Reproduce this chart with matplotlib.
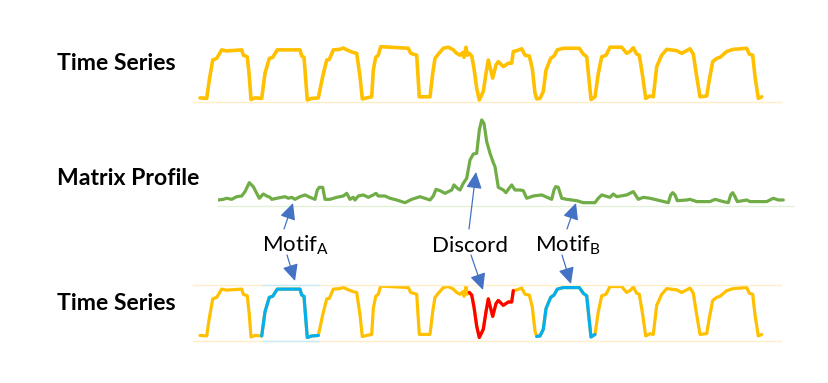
import matplotlib
matplotlib.use("Agg")
import matplotlib.pyplot as plt
from matplotlib.patches import FancyArrowPatch
import numpy as np

plt.rcParams['font.family'] = ['Lato', 'DejaVu Sans']
plt.rcParams['mathtext.fontset'] = 'custom'
plt.rcParams['mathtext.rm'] = 'Lato'
plt.rcParams['mathtext.it'] = 'Lato:italic'
plt.rcParams['mathtext.bf'] = 'Lato:bold'

# ---------------- data ----------------
ts_t = [0, 6.7, 9.3, 12.7, 16.7, 21.7, 26.7, 41.7, 43.3, 47.3, 49.3, 51, 55, 61.7,
        65, 69.3, 72.7, 77.3, 81.7, 100, 101.7, 104, 105.7, 107.3, 111.7, 118.3,
        122.7, 126.7, 129.3, 133.3, 140, 143.3, 146.7, 153.3, 156.7, 160, 162.3,
        166.7, 171.7, 173.3, 175.7, 178.3, 180.7, 190, 208.3, 210.7, 216.7, 218,
        219.3, 230, 232.7, 235, 238.3, 243.3, 248.3, 253.3, 256.7, 260, 262.7, 264,
        266, 267.3, 269.3, 271.7, 274, 276.7, 279.3, 283.3, 286, 288.3, 292.7, 296,
        298.3, 303.3, 308.3, 311.7, 313.3, 316.7, 321.7, 325, 329.3, 332.3, 335,
        336.7, 340, 343.3, 346, 350.7, 354, 357.3, 363.3, 379.3, 383.3, 386.7, 389,
        391, 395, 398.3, 401.7, 406, 410, 421.7, 426.7, 430, 433.3, 436.7, 439.3,
        442.7, 445.7, 450, 453.3, 456.7, 461.7, 466.7, 476.7, 481.7, 490, 493.3,
        496.7, 500, 506.7, 509.3, 512.7, 516.7, 520, 526.7, 533.3, 546.7, 549.3,
        552.7, 555, 558.3, 561.7]
ts_v = [4, 3, 37.5, 75, 78, 94, 92, 94, 84, 81, 44, 1, 4, 3,
        50, 78, 80, 94, 94, 94, 82.5, 80, 37.5, 0, 3, 4,
        44, 75, 76, 94, 95, 97.5, 94, 89, 87.5, 44, 2,
        4, 6, 56, 80, 84, 100, 99, 97, 87.5, 84, 44,
        6, 6, 50, 78, 86, 97, 99, 94, 87.5, 84, 89, 80,
        99, 84, 87.5, 82.5, 59, 22, 0, 16, 50, 75, 41, 66,
        72, 62.5, 69, 69, 91, 92.5, 96, 84, 82.5, 59, 12.5,
        2, 3, 16, 56, 78, 82.5, 94, 97, 97, 86, 81, 37.5,
        1, 6, 50, 81, 84, 99, 99, 87.5, 91, 98, 86, 84,
        44, 3, 7.5, 6, 62.5, 84, 95, 92.5, 87.5, 96, 86,
        44, 6, 7.5, 37.5, 72, 78, 80, 91, 95, 97, 86,
        84, 44, 3, 6]

mp_t = [18.3, 23.3, 26.7, 31.7, 36.7, 41.7, 45, 49.3, 53.3, 56.7, 59.3, 63.3, 66.7,
        70, 71.7, 76.7, 81.7, 85, 88.3, 91.7, 95, 100, 105, 110, 115, 117.3, 119.3,
        122.7, 125, 130, 136.7, 143.3, 146.7, 150, 153.3, 155, 158.3, 163.3, 168.3,
        173.3, 176, 178.3, 185, 190, 196.7, 205, 211.7, 220, 230, 233.3, 236, 240,
        245, 251.7, 254, 257.3, 260, 263.3, 266.7, 270, 273.3, 276.7, 279.3, 281.7,
        284, 286.7, 290, 293.3, 295, 298.3, 303.3, 306, 308.3, 311.7, 315, 320,
        323.3, 326.7, 333.3, 341.7, 351.7, 354, 355.7, 358.3, 361.7, 366.7, 376.7,
        383.3, 395, 398.3, 401.7, 410, 413.3, 416.7, 426.7, 433.3, 438.3, 443.3,
        450, 460, 468.3, 470.7, 472.7, 475, 477.3, 486.7, 490, 496.7, 510, 515,
        523.3, 528.3, 530.7, 532.7, 535, 537.3, 546.7, 550, 566.7, 573.3, 578.3,
        583.3]
mp_v = [0.45, 0.5, 0.58, 0.5, 0.7, 0.75, 1.08, 1.75, 1.45, 0.95, 0.58, 0.9, 0.75,
        0.65, 0.5, 0.58, 0.65, 0.7, 0.58, 0.65, 0.5, 0.7, 0.83, 0.65, 0.5, 1.2, 1.4,
        1.4, 0.5, 0.5, 0.65, 0.75, 0.95, 0.5, 0.65, 0.45, 0.75, 0.83, 0.65,
        0.83, 0.95, 0.75, 0.75, 0.58, 0.45, 0.25, 0.5, 0.7, 0.45, 0.75, 1.25, 1.15,
        0.95, 1.2, 1.58, 1.33, 1.2, 1.7, 2.08, 3.45, 3.9, 3.95, 5.7, 6.45,
        6.2, 4.83, 3.95, 3.25, 2.95, 1.4, 1.2, 1.0, 1.25, 1.58, 1.2, 1.2,
        1.15, 0.58, 0.75, 0.83, 0.5, 1.2, 1.45, 1.4, 0.58, 0.5, 0.4,
        0.25, 0.25, 0.58, 0.83, 0.65, 0.9, 0.7, 0.83, 1.08, 0.5, 0.65,
        0.58, 0.4, 0.25, 0.83, 1.0, 0.83, 0.4, 0.45, 0.5, 0.33, 0.33, 0.5,
        0.33, 0.25, 0.83, 1.0, 0.7, 0.33, 0.45, 0.33, 0.33, 0.58, 0.45,
        0.45]

row_labels = ["Time Series", "Matrix Profile", "Time Series"]
motif_a = (61.7, 118.3)
discord = (269.3, 313.3)
motif_b = (336.7, 395.0)
ann_labels = ["Motif$_{\\mathrm{A}}$", "Discord", "Motif$_{\\mathrm{B}}$"]

# ---------------- styling ----------------
W, H = 829, 383
ORANGE = '#FFC000'
GREEN = '#70AD47'
BLUE = '#00B0F0'
RED = '#FF0000'
ARROW = '#4472C4'
FAINT_O = '#FFEFC7'
FAINT_G = '#E2F0D9'
FAINT_B = '#C5EAF8'

fig = plt.figure(figsize=(W / 100, H / 100), dpi=100)
fig.patch.set_facecolor('white')


def rect(x0, y0, x1, y1):
    return [x0 / W, 1 - y1 / H, (x1 - x0) / W, (y1 - y0) / H]


def fp(x, y):
    return (x / W, 1 - y / H)


def clean(ax, spine_color, sides):
    ax.set_xticks([])
    ax.set_yticks([])
    ax.patch.set_alpha(0)
    for s in ['top', 'bottom', 'left', 'right']:
        if s in sides:
            ax.spines[s].set_color(spine_color)
            ax.spines[s].set_linewidth(1.0)
        else:
            ax.spines[s].set_visible(False)


t = np.array(ts_t)
v = np.array(ts_v)
line_kw = dict(solid_joinstyle='round', solid_capstyle='round')

# top time series
ax1 = fig.add_axes(rect(193, 44, 781, 102.3))
ax1.plot(t, v, color=ORANGE, lw=2.6, **line_kw)
ax1.set_xlim(-7, 581)
ax1.set_ylim(-4.3, 105)
clean(ax1, FAINT_O, ['bottom'])

# matrix profile
ax2 = fig.add_axes(rect(218, 110, 793, 206))
ax2.plot(mp_t, mp_v, color=GREEN, lw=2.3, **line_kw)
ax2.set_xlim(18, 593)
ax2.set_ylim(0, 7.2)
clean(ax2, FAINT_G, ['bottom'])

# bottom time series with highlights
ax3 = fig.add_axes(rect(193, 285, 781, 340.7))
ax3.plot(t, v, color=ORANGE, lw=2.3, **line_kw)
for (a, b), c in [(motif_a, BLUE), (discord, RED), (motif_b, BLUE)]:
    m = (t >= a - 1e-6) & (t <= b + 1e-6)
    ax3.plot(t[m], v[m], color=c, lw=2.3, zorder=3, **line_kw)
ax3.set_xlim(-7, 581)
ax3.set_ylim(-6.2, 102)
clean(ax3, FAINT_O, ['top', 'bottom'])
ax3.hlines([102, -6.2], motif_a[0], motif_a[1] + 1.5, color=FAINT_B, lw=1.0,
           clip_on=False, zorder=4)

# row labels
for lab, yb in zip(row_labels, [70, 185, 310]):
    fig.text(*fp(57, yb), lab, fontsize=16.6, fontweight='bold', ha='left',
             va='baseline', color='black')

# annotation labels
for lab, xl in zip(ann_labels, [261.7, 431.7, 535]):
    fig.text(*fp(xl, 251.7), lab, fontsize=16, ha='left', va='baseline',
             color='black')

# arrows
arrows = [((284, 229), (293, 203)), ((469, 229), (476, 172)), ((567, 229), (576, 203)),
          ((287, 255), (295, 281)), ((471, 255), (483, 290)), ((562, 255), (571, 284))]
for a, b in arrows:
    fig.add_artist(FancyArrowPatch(fp(*a), fp(*b), transform=fig.transFigure,
                                   arrowstyle='-|>,head_length=10,head_width=4.8',
                                   mutation_scale=1, color=ARROW, lw=0.9,
                                   shrinkA=0, shrinkB=0))

fig.savefig('out.png', dpi=100, facecolor='white')
